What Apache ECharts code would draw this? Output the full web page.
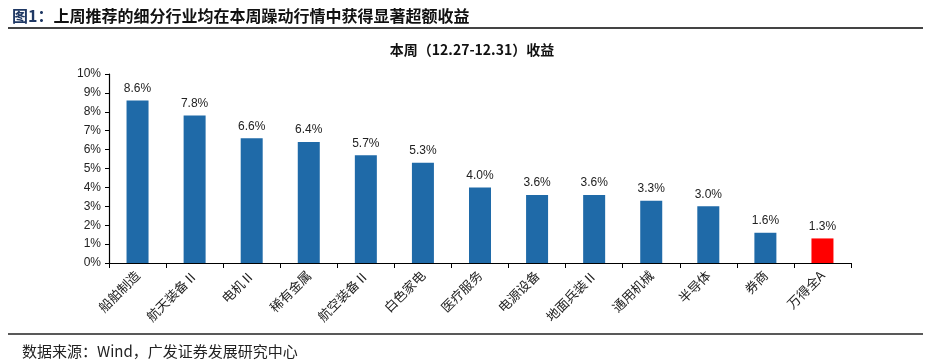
<!DOCTYPE html>
<html><head><meta charset="utf-8">
<script src="https://cdn.jsdelivr.net/npm/echarts@6/dist/echarts.min.js"></script>
<style>html,body{margin:0;padding:0;background:#fff}#c{width:933px;height:361px}</style>
</head><body><div id="c"></div>
<script>
const categories = ['船舶制造','航天装备Ⅱ','电机Ⅱ','稀有金属','航空装备Ⅱ','白色家电','医疗服务','电源设备','地面兵装Ⅱ','通用机械','半导体','券商','万得全A'];
const values = [8.6, 7.8, 6.6, 6.4, 5.7, 5.3, 4.0, 3.6, 3.6, 3.3, 3.0, 1.6, 1.3];
const highlight = ['万得全A'];
const yTicks = [0,1,2,3,4,5,6,7,8,9,10];

const chart = echarts.init(document.getElementById('c'), null, {renderer:'canvas'});
const cjk = '"Noto Sans CJK SC", sans-serif';
chart.setOption({
  animation:false,
  backgroundColor:'#fff',
  title:[{
    text:'{a|图1：}{b|上周推荐的细分行业均在本周躁动行情中获得显著超额收益}',
    left:7, top:3,
    textStyle:{rich:{
      a:{fontFamily:cjk, fontSize:16, fontWeight:'bold', color:'#1F3864'},
      b:{fontFamily:cjk, fontSize:16, fontWeight:'bold', color:'#111'}
    }}
  },{
    text:'本周（12.27-12.31）收益',
    left:467, top:38, textAlign:'center',
    textStyle:{fontFamily:cjk, fontSize:14, fontWeight:'bold', color:'#111'}
  },{
    text:'数据来源：Wind，广发证券发展研究中心',
    left:17, top:339,
    textStyle:{fontFamily:cjk, fontSize:15, fontWeight:'normal', color:'#222'}
  }],
  graphic:[
    {type:'line', shape:{x1:8,y1:28,x2:923,y2:28}, style:{stroke:'#444', lineWidth:2}},
    {type:'line', shape:{x1:8,y1:334,x2:923,y2:334}, style:{stroke:'#222', lineWidth:1.5}}
  ],
  grid:{left:109, right:82, top:74, bottom:98},
  xAxis:{
    type:'category', data:categories,
    axisLine:{lineStyle:{color:'#000', width:1.2}},
    axisTick:{show:true, alignWithLabel:false, length:5, lineStyle:{color:'#000'}},
    axisLabel:{rotate:45, interval:0, fontFamily:cjk, fontSize:13, color:'#222', margin:10}
  },
  yAxis:{
    type:'value', min:0, max:10, interval:1,
    splitLine:{show:false},
    axisLine:{show:true, lineStyle:{color:'#000', width:1.2}},
    axisTick:{show:true, length:4, lineStyle:{color:'#000'}},
    axisLabel:{formatter:v=>v+'%', fontFamily:'"Liberation Sans", Arial, sans-serif', fontSize:12, color:'#222', margin:8}
  },
  series:[{
    type:'bar', barWidth:22,
    data: values.map((v,i)=>({value:v, itemStyle:{color: highlight.includes(categories[i]) ? '#FF0000' : '#1F6AA8'}})),
    label:{show:true, position:'top', distance:6, formatter:p=>p.value.toFixed(1)+'%', fontFamily:'"Liberation Sans", Arial, sans-serif', fontSize:12, color:'#222'}
  }]
});
</script></body></html>
